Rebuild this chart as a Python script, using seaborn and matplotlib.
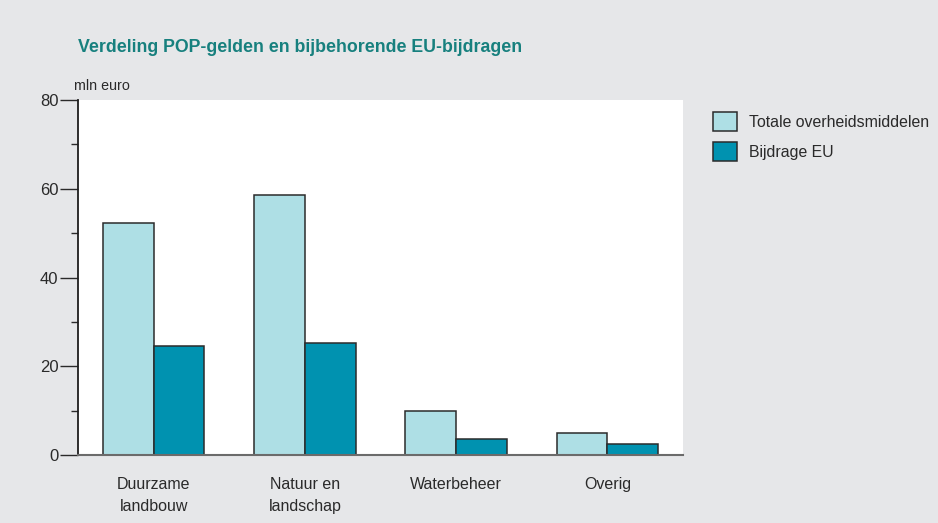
import matplotlib
matplotlib.use("Agg")
import matplotlib.pyplot as plt
import seaborn as sns
import pandas as pd
from matplotlib.ticker import MultipleLocator
from matplotlib.patches import Patch

categories = ["Duurzame\nlandbouw", "Natuur en\nlandschap", "Waterbeheer", "Overig"]
series_names = ["Totale overheidsmiddelen", "Bijdrage EU"]
totale = [52.3, 58.6, 10.0, 4.9]
bijdrage_eu = [24.6, 25.2, 3.6, 2.4]
y_ticks = [0, 20, 40, 60, 80]

df = pd.DataFrame({
    "categorie": categories * 2,
    "reeks": [series_names[0]] * len(categories) + [series_names[1]] * len(categories),
    "waarde": totale + bijdrage_eu,
})

bg = "#e6e7e9"
light = "#aedfe5"
dark = "#0092b0"
edge = "#2b2b2b"
text_col = "#2a2a2a"
title_col = "#17807e"

sns.set_theme(style="white")
plt.rcParams["font.family"] = ["Liberation Sans", "DejaVu Sans"]

fig = plt.figure(figsize=(9.38, 5.23), dpi=100, facecolor=bg)
ax = fig.add_axes([78 / 938, (523 - 455) / 523, (683 - 78) / 938, (455 - 100) / 523])
ax.set_facecolor("white")

sns.barplot(data=df, x="categorie", y="waarde", hue="reeks",
            palette=[light, dark], width=0.67, gap=0,
            edgecolor=edge, linewidth=1.1, saturation=1, ax=ax, legend=False)

ax.set_xlim(-0.5, 3.5)
ax.set_ylim(0, 80)
ax.set_yticks(y_ticks)
ax.yaxis.set_minor_locator(MultipleLocator(10))
ax.tick_params(axis="y", which="major", length=13, width=1.0, color=text_col,
               labelsize=12, labelcolor=text_col, pad=1, left=True)
ax.tick_params(axis="y", which="minor", length=5, width=1.0, color=text_col, left=True)
ax.tick_params(axis="x", length=0, labelsize=11.5, labelcolor=text_col, pad=16)
for lbl in ax.get_xticklabels():
    lbl.set_linespacing(1.6)
ax.set_xlabel("")
ax.set_ylabel("")

for s in ["top", "right"]:
    ax.spines[s].set_visible(False)
ax.spines["left"].set_color("#1e1e1e")
ax.spines["left"].set_linewidth(1.3)
ax.spines["bottom"].set_color("#6b6b6b")
ax.spines["bottom"].set_linewidth(1.5)

fig.text(78 / 938, 1 - 47 / 523, "Verdeling POP-gelden en bijbehorende EU-bijdragen",
         fontsize=12.8, fontweight="bold", color=title_col, va="center", ha="left")
fig.text(74 / 938, 1 - 86 / 523, "mln euro", fontsize=10.3, color=text_col,
         va="center", ha="left")

handles = [Patch(facecolor=light, edgecolor=edge, linewidth=1.1),
           Patch(facecolor=dark, edgecolor=edge, linewidth=1.1)]
fig.legend(handles, series_names, loc="upper left",
           bbox_to_anchor=(699 / 938, 1 - 98 / 523), frameon=False,
           fontsize=11.4, labelcolor=text_col, handlelength=1.5, handleheight=1.4,
           handletextpad=0.75, labelspacing=0.75)

fig.savefig("out.png", dpi=100, facecolor=bg)
